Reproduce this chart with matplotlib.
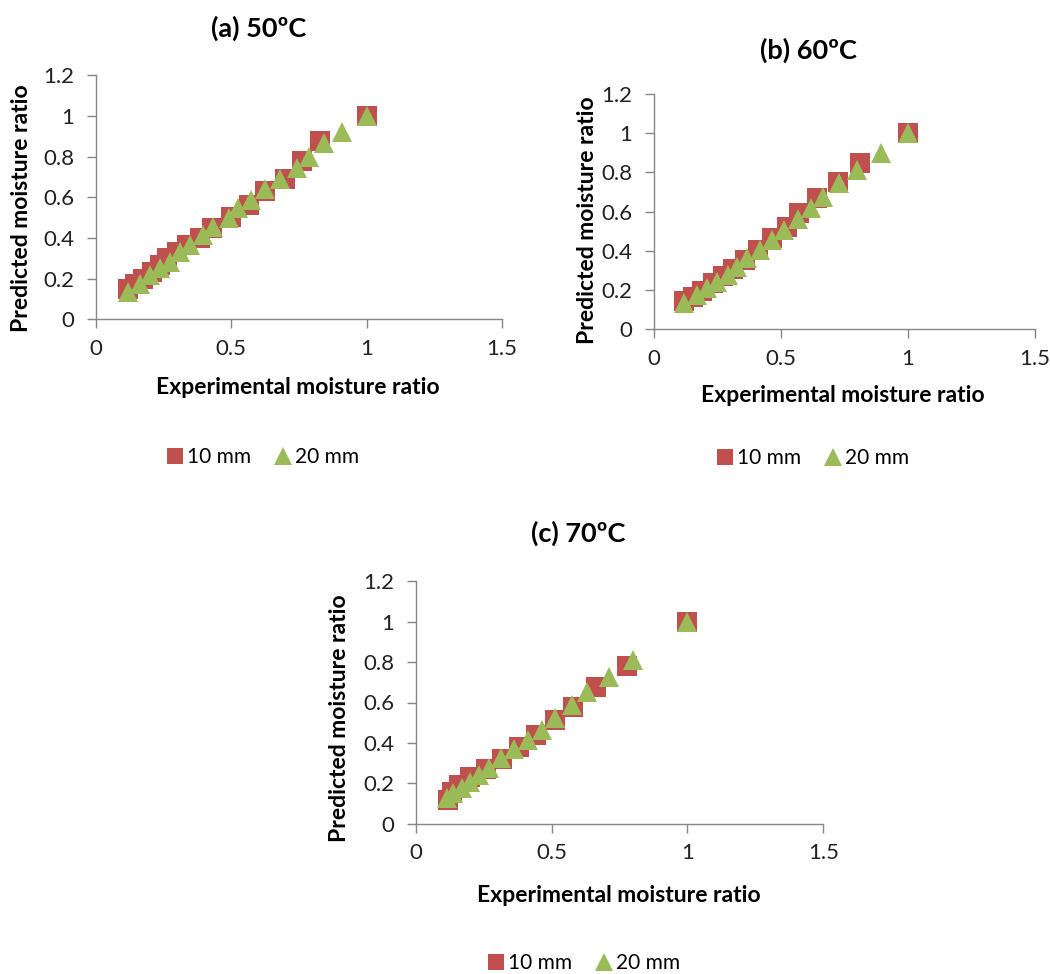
import matplotlib.pyplot as plt
from matplotlib.lines import Line2D

plt.rcParams['font.family'] = ['Lato', 'DejaVu Sans']

# (a) 50 C
a_exp_10 = [1.0, 0.827, 0.762, 0.70, 0.626, 0.564, 0.50, 0.43, 0.385, 0.336, 0.299, 0.262, 0.235, 0.207, 0.175, 0.145, 0.12]
a_pred_10 = [1.0, 0.875, 0.78, 0.69, 0.63, 0.56, 0.505, 0.45, 0.40, 0.366, 0.333, 0.30, 0.267, 0.235, 0.20, 0.175, 0.15]
a_exp_20 = [1.0, 0.91, 0.842, 0.786, 0.743, 0.68, 0.624, 0.574, 0.525, 0.49, 0.434, 0.397, 0.348, 0.311, 0.274, 0.237, 0.20, 0.163, 0.12]
a_pred_20 = [1.0, 0.92, 0.865, 0.80, 0.743, 0.69, 0.64, 0.585, 0.545, 0.50, 0.453, 0.417, 0.366, 0.33, 0.28, 0.25, 0.216, 0.175, 0.135]

# (b) 60 C
b_exp_10 = [1.0, 0.81, 0.726, 0.643, 0.572, 0.522, 0.463, 0.41, 0.358, 0.312, 0.273, 0.234, 0.19, 0.155, 0.118]
b_pred_10 = [1.0, 0.85, 0.753, 0.668, 0.595, 0.524, 0.464, 0.405, 0.354, 0.306, 0.27, 0.235, 0.197, 0.167, 0.146]
b_exp_20 = [1.0, 0.892, 0.80, 0.73, 0.667, 0.617, 0.568, 0.513, 0.463, 0.417, 0.367, 0.325, 0.293, 0.247, 0.207, 0.168, 0.12]
b_pred_20 = [1.0, 0.898, 0.81, 0.745, 0.677, 0.617, 0.561, 0.507, 0.456, 0.405, 0.362, 0.32, 0.277, 0.243, 0.209, 0.175, 0.133]

# (c) 70 C
c_exp_10 = [1.0, 0.779, 0.664, 0.578, 0.513, 0.443, 0.381, 0.316, 0.258, 0.20, 0.161, 0.132, 0.12]
c_pred_10 = [1.0, 0.782, 0.678, 0.579, 0.513, 0.439, 0.378, 0.319, 0.269, 0.233, 0.191, 0.158, 0.117]
c_exp_20 = [1.0, 0.80, 0.713, 0.629, 0.576, 0.513, 0.464, 0.415, 0.363, 0.314, 0.27, 0.234, 0.20, 0.169, 0.139, 0.114]
c_pred_20 = [1.0, 0.81, 0.728, 0.654, 0.588, 0.522, 0.464, 0.414, 0.368, 0.324, 0.274, 0.241, 0.208, 0.175, 0.15, 0.125]

titles = ['(a) 50ºC', '(b) 60ºC', '(c) 70ºC']
series_names = ['10 mm', '20 mm']
x_ticks = [0, 0.5, 1, 1.5]
x_tick_labels = ['0', '0.5', '1', '1.5']
y_ticks = [0, 0.2, 0.4, 0.6, 0.8, 1.0, 1.2]
y_tick_labels = ['0', '0.2', '0.4', '0.6', '0.8', '1', '1.2']

red = '#C0504D'
green = '#9BBB59'
axis_gray = '#868686'

W, H = 1050, 974
fig = plt.figure(figsize=(W / 100, H / 100), dpi=100)


def px_axes(x0, y_top, x1, y_bot):
    return fig.add_axes([x0 / W, 1 - y_bot / H, (x1 - x0) / W, (y_bot - y_top) / H])


def fx(x):
    return x / W


def fy(y):
    return 1 - y / H


panels = [
    dict(box=(96, 75.3, 502, 319.3), data=(a_exp_10, a_pred_10, a_exp_20, a_pred_20),
         title=(259, 28), xlab=(298, 388), ylab=(22, 208), leg=(262, 457)),
    dict(box=(654, 94, 1035, 329.3), data=(b_exp_10, b_pred_10, b_exp_20, b_pred_20),
         title=(808, 50), xlab=(843, 395), ylab=(587, 220), leg=(812, 458)),
    dict(box=(415.7, 581.3, 823.3, 823.7), data=(c_exp_10, c_pred_10, c_exp_20, c_pred_20),
         title=(578, 533), xlab=(619, 895), ylab=(340, 718), leg=(583, 963)),
]

for title, p in zip(titles, panels):
    ax = px_axes(*p['box'])
    e10, p10, e20, p20 = p['data']
    ax.plot(e10, p10, linestyle='none', marker='s', markersize=14.5, color=red,
            markeredgewidth=0, clip_on=False)
    ax.plot(e20, p20, linestyle='none', marker='^', markersize=15, color=green,
            markeredgewidth=0, clip_on=False)
    ax.set_xlim(0, 1.5)
    ax.set_ylim(0, 1.2)
    ax.set_xticks(x_ticks)
    ax.set_xticklabels(x_tick_labels)
    ax.set_yticks(y_ticks)
    ax.set_yticklabels(y_tick_labels)
    for s in ['top', 'right']:
        ax.spines[s].set_visible(False)
    for s in ['left', 'bottom']:
        ax.spines[s].set_color(axis_gray)
        ax.spines[s].set_linewidth(1.0)
    ax.tick_params(direction='out', length=6.5, width=1, color=axis_gray,
                   labelsize=16, labelcolor='#222222')
    ax.tick_params(axis='y', pad=9)
    ax.tick_params(axis='x', pad=7.5)

    fig.text(fx(p['title'][0]), fy(p['title'][1]), title, ha='center', va='center',
             fontsize=19.5, fontweight='bold', color='black')
    fig.text(fx(p['xlab'][0]), fy(p['xlab'][1]), 'Experimental moisture ratio',
             ha='center', va='center', fontsize=16.5, fontweight='bold', color='black')
    fig.text(fx(p['ylab'][0]), fy(p['ylab'][1]), 'Predicted moisture ratio',
             ha='center', va='center', rotation=90, fontsize=16.5, fontweight='bold',
             color='black')

    handles = [
        Line2D([], [], linestyle='none', marker='s', markersize=12, color=red, markeredgewidth=0),
        Line2D([], [], linestyle='none', marker='^', markersize=13, color=green, markeredgewidth=0),
    ]
    fig.legend(handles, series_names, loc='center',
               bbox_to_anchor=(fx(p['leg'][0]), fy(p['leg'][1])),
               ncol=2, frameon=False, fontsize=15, handletextpad=0.1,
               columnspacing=1.0, handlelength=1.0)

fig.savefig('out.png', dpi=100, facecolor='white')
